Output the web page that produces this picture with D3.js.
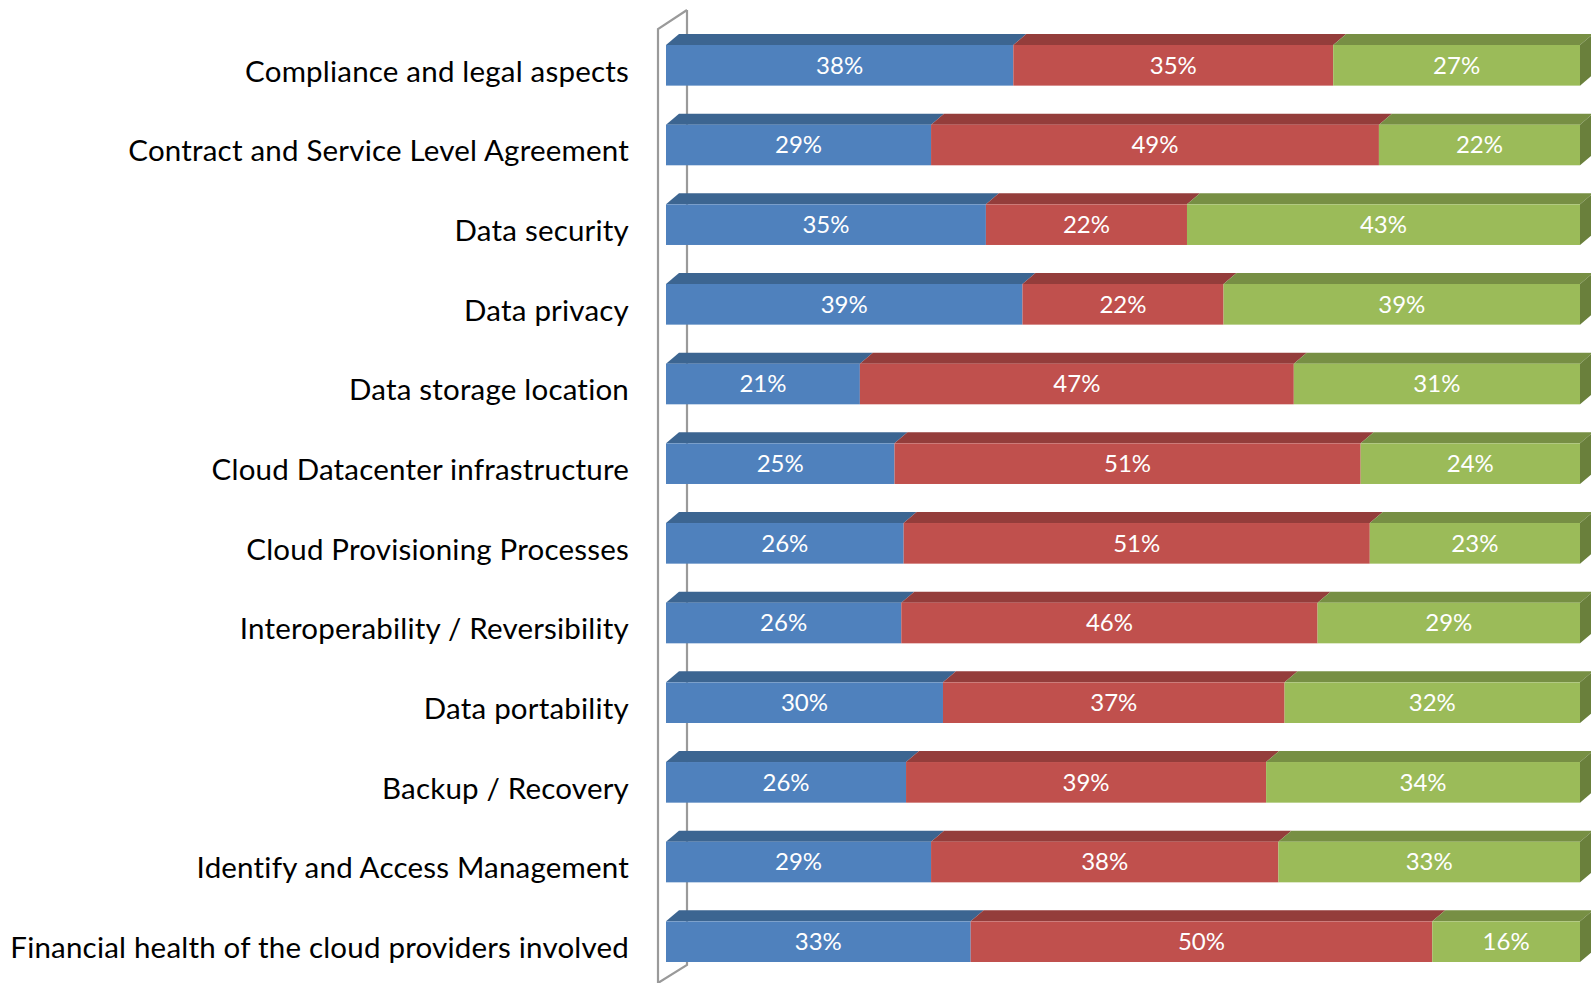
<!DOCTYPE html>
<html>
<head>
<meta charset="utf-8">
<script src="https://cdn.jsdelivr.net/npm/d3@7"></script>
<style>
  body { margin: 0; background: #fff; }
  svg { display: block; }
  .cat { font-family: Lato, "Open Sans", sans-serif; font-size: 29.5px; fill: #000; letter-spacing: 0.2px; }
  .val { font-family: Lato, "Open Sans", sans-serif; font-size: 24px; fill: #fff; }
</style>
</head>
<body>
<div id="chart"></div>
<script>
var categories = [
    "Compliance and legal aspects",
    "Contract and Service Level Agreement",
    "Data security",
    "Data privacy",
    "Data storage location",
    "Cloud Datacenter infrastructure",
    "Cloud Provisioning Processes",
    "Interoperability / Reversibility",
    "Data portability",
    "Backup / Recovery",
    "Identify and Access Management",
    "Financial health of the cloud providers involved"
];
var blueValues  = [38, 29, 35, 39, 21, 25, 26, 26, 30, 26, 29, 33];
var redValues   = [35, 49, 22, 22, 47, 51, 51, 46, 37, 39, 38, 50];
var greenValues = [27, 22, 43, 39, 31, 24, 23, 29, 32, 34, 33, 16];

makePlot();

function makePlot() {
    var svgWidth = 1591;
    var svgHeight = 983;

    var svg = d3.select("#chart")
        .append("svg")
        .attr("width", svgWidth)
        .attr("height", svgHeight);

    // 3d look
    var dx = 13, dy = 11;
    var series = [
        {key: "blue", values: blueValues, front: "#4F81BD", top: "#3C6591", side: "#355A85"},
        {key: "red", values: redValues, front: "#C0504D", top: "#943D3B", side: "#85373A"},
        {key: "green", values: greenValues, front: "#9BBB59", top: "#778F44", side: "#6A803C"}
    ];

    // build rows, normalise to 100% stacks
    var rows = categories.map(function(c, i) {
        var total = blueValues[i] + redValues[i] + greenValues[i];
        var x0 = 0;
        var segs = series.map(function(s) {
            var v = s.values[i] / total;
            var seg = {cat: c, v0: x0, v1: x0 + v, label: s.values[i], s: s};
            x0 += v;
            return seg;
        });
        return {cat: c, segs: segs};
    });

    var xScale = d3.scaleLinear().domain([0, 1]).range([666, 1580]);
    var yScale = d3.scaleBand()
        .domain(categories)
        .range([45, 962])
        .paddingInner(0.49)
        .paddingOuter(0);
    var bw = yScale.bandwidth();

    // wall
    var wall = svg.append("g").attr("fill", "none").attr("stroke", "#9A9A9A").attr("stroke-width", 2.2);
    wall.append("path").attr("d", "M687,10 L687,965 L658,983");
    wall.append("path").attr("d", "M658,983 L658,29 L687,10");

    // bars
    var rowG = svg.selectAll(".row")
        .data(rows)
        .enter().append("g")
        .attr("class", "row");

    rowG.each(function(r) {
        var g = d3.select(this);
        var yt = yScale(r.cat);
        r.segs.forEach(function(d, j) {
            var xa = xScale(d.v0), xb = xScale(d.v1);
            // top face
            g.append("path")
                .attr("d", "M" + xa + "," + yt + " L" + (xa + dx) + "," + (yt - dy) +
                    " L" + (xb + dx) + "," + (yt - dy) + " L" + xb + "," + yt + "Z")
                .attr("fill", d.s.top);
            // front face
            g.append("rect")
                .attr("x", xa)
                .attr("y", yt)
                .attr("width", xb - xa)
                .attr("height", bw)
                .attr("fill", d.s.front);
            if (j === r.segs.length - 1) {
                g.append("path")
                    .attr("d", "M" + xb + "," + yt + " L" + (xb + dx) + "," + (yt - dy) +
                        " L" + (xb + dx) + "," + (yt - dy + bw) + " L" + xb + "," + (yt + bw) + "Z")
                    .attr("fill", d.s.side);
            }
            g.append("text")
                .attr("class", "val")
                .attr("x", (xa + xb) / 2)
                .attr("y", yt + bw / 2)
                .attr("dy", "0.35em")
                .attr("text-anchor", "middle")
                .text(d.label + "%");
        });
    });

    // category labels
    svg.append("g").selectAll("text")
        .data(categories)
        .enter().append("text")
        .attr("class", "cat")
        .attr("x", 629)
        .attr("y", d => yScale(d) + bw / 2 + 6)
        .attr("dy", "0.35em")
        .attr("text-anchor", "end")
        .text(d => d);
}
</script>
</body>
</html>
